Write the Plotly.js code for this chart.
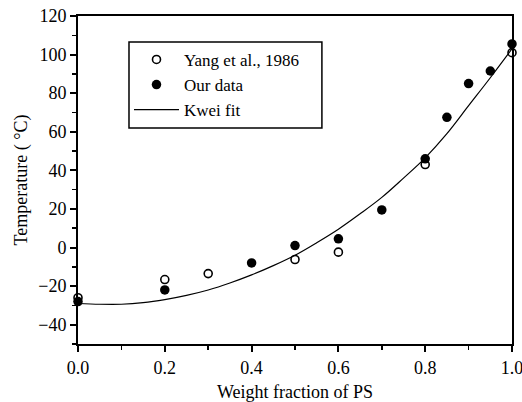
<!DOCTYPE html>
<html>
<head>
<meta charset="utf-8">
<script src="https://cdn.plot.ly/plotly-3.0.1.min.js"></script>
<style>
html,body{margin:0;padding:0;background:#fff;}
#chart{width:522px;height:402px;}
</style>
</head>
<body>
<div id="chart"></div>
<script>
// Yang et al., 1986 (open circles)
const yangX = [0.0, 0.2, 0.3, 0.5, 0.6, 0.8, 1.0];
const yangY = [-26, -16.6, -13.5, -6.2, -2.4, 43, 101];

// Our data (filled circles)
const oursX = [0.0, 0.2, 0.4, 0.5, 0.6, 0.7, 0.8, 0.85, 0.9, 0.95, 1.0];
const oursY = [-28, -22, -8, 1, 4.5, 19.5, 46, 67.5, 85, 91.5, 105.5];

// Kwei fit curve
const fitX = [0.0, 0.05, 0.1, 0.15, 0.2, 0.25, 0.3, 0.35, 0.4, 0.45, 0.5, 0.55, 0.6, 0.65, 0.7, 0.75, 0.8, 0.85, 0.9, 0.95, 1.0];
const fitY = [-29, -29.4, -29.4, -28.6, -27, -24.8, -22, -18.4, -14.2, -9.4, -4, 2.5, 9.5, 17.5, 26, 36, 46.5, 59, 73.5, 88, 103];

const xTicks = [0.0, 0.2, 0.4, 0.6, 0.8, 1.0];
const xTickText = ['0.0', '0.2', '0.4', '0.6', '0.8', '1.0'];
const yTicks = [-40, -20, 0, 20, 40, 60, 80, 100, 120];

const fam = 'Liberation Serif, Times New Roman, serif';
const font = {family: fam, size: 18, color: '#000'};
const legFont = {family: fam, size: 17, color: '#000'};

const traces = [
  {x: yangX, y: yangY, name: 'Yang et al., 1986', mode: 'markers', type: 'scatter', cliponaxis: false,
   marker: {symbol: 'circle-open', size: 8, color: '#000', line: {width: 1.6, color: '#000'}}},
  {x: oursX, y: oursY, name: 'Our data', mode: 'markers', type: 'scatter', cliponaxis: false,
   marker: {symbol: 'circle', size: 9.5, color: '#000'}},
  {x: fitX, y: fitY, name: 'Kwei fit', mode: 'lines', type: 'scatter',
   line: {color: '#000', width: 1.2, shape: 'spline', smoothing: 1}}
];

const layout = {
  width: 522, height: 402,
  margin: {l: 78, r: 10, t: 16, b: 58},
  paper_bgcolor: '#fff', plot_bgcolor: '#fff',
  font: font,
  showlegend: true,
  legend: {x: 0.1175, y: 0.921, xanchor: 'left', yanchor: 'top',
           borderwidth: 0, bgcolor: 'rgba(0,0,0,0)',
           font: legFont, itemwidth: 45, tracegroupgap: 0},
  shapes: [
    {type: 'rect', xref: 'paper', yref: 'paper', x0: 0.1175, x1: 0.562, y0: 0.6585, y1: 0.921,
     line: {color: '#000', width: 1.5}, fillcolor: 'rgba(0,0,0,0)', layer: 'above'}
  ],
  xaxis: {range: [0, 1], tickvals: xTicks, ticktext: xTickText, automargin: false,
          ticklabeloverflow: 'allow',
          showgrid: false, zeroline: false, showline: true, linecolor: '#000', linewidth: 2,
          mirror: true, ticks: 'outside', ticklen: 6, tickwidth: 2, tickcolor: '#000',
          minor: {dtick: 0.1, ticks: 'outside', ticklen: 4, tickwidth: 1.5, tickcolor: '#000'},
          tickfont: font,
          title: {text: 'Weight fraction of PS', font: font, standoff: 10}},
  yaxis: {range: [-50, 120], tickvals: yTicks, automargin: false,
          showgrid: false, zeroline: false, showline: true, linecolor: '#000', linewidth: 2,
          mirror: true, ticks: 'outside', ticklen: 6, tickwidth: 2, tickcolor: '#000',
          minor: {dtick: 10, ticks: 'outside', ticklen: 4, tickwidth: 1.5, tickcolor: '#000'},
          tickfont: font,
          title: {text: 'Temperature ( \u00B0C)', font: font, standoff: 6}}
};

Plotly.newPlot('chart', traces, layout, {displayModeBar: false, staticPlot: true});
</script>
</body>
</html>
